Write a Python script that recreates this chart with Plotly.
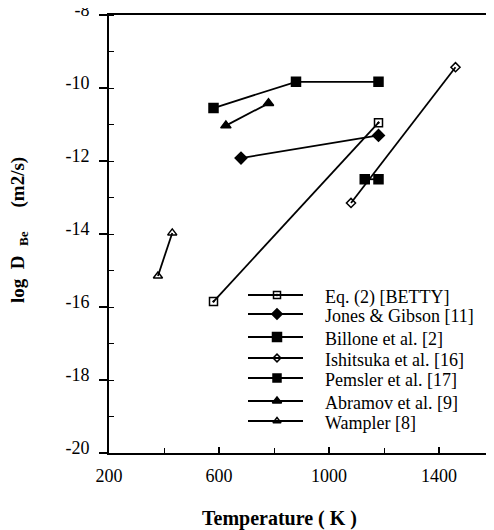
import plotly.graph_objects as go

# data (Temperature K, log D)
betty_T = [580, 1180]
betty_D = [-15.85, -10.95]
jones_T = [680, 1180]
jones_D = [-11.92, -11.3]
billone_T = [580, 880, 1180]
billone_D = [-10.55, -9.83, -9.83]
ishitsuka_T = [1080, 1460]
ishitsuka_D = [-13.15, -9.43]
pemsler_T = [1130, 1180]
pemsler_D = [-12.5, -12.5]
abramov_T = [625, 780]
abramov_D = [-11.03, -10.42]
wampler_T = [378, 430]
wampler_D = [-15.15, -13.97]

x_tickvals = [200, 600, 1000, 1400]
x_ticktext = ["200", "600", "1000", "1400"]
y_tickvals = [-20, -18, -16, -14, -12, -10, -8]
y_ticktext = ["-20", "-18", "-16", "-14", "-12", "-10", "-8"]

series_names = ["Eq. (2) [BETTY]", "Jones & Gibson [11]", "Billone et al. [2]",
                "Ishitsuka et al. [16]", "Pemsler et al. [17]",
                "Abramov et al. [9]", "Wampler [8]"]
series_T = [betty_T, jones_T, billone_T, ishitsuka_T, pemsler_T, abramov_T, wampler_T]
series_D = [betty_D, jones_D, billone_D, ishitsuka_D, pemsler_D, abramov_D, wampler_D]

symbols = ["square-open-dot", "diamond", "square", "diamond-open",
           "square", "triangle-up", "triangle-up-open"]
sizes = [8, 9, 9, 7, 9, 9, 8]
legend_sizes = [7, 8, 9, 6, 8, 8, 7]

FONT = "Liberation Serif"

# page offset (default body margin) compensation
OFF = 8
PL, PR, PT, PB = 109, 494, 15, 453  # desired plot area in page pixels
W, H = 494, 530
pw = PR - PL
ph = PB - PT


def px(xp):
    return (xp - PL) / pw


def py(yp):
    return 1 - (yp - PT) / ph


fig = go.Figure()
for name, xs, ys, sym, sz in zip(series_names, series_T, series_D, symbols, sizes):
    fig.add_trace(go.Scatter(
        x=xs, y=ys, name=name, mode="lines+markers", showlegend=False,
        line=dict(color="black", width=1.8),
        marker=dict(symbol=sym, size=sz, color="black",
                    line=dict(color="black", width=1.5)),
    ))

# manual legend (line sample + marker + text)
leg_rows = [295, 314, 337, 358, 378, 401, 421]
leg_x0, leg_x1, leg_mx, leg_tx = 248, 303, 277, 323
shapes = []
annotations = []
for i, name in enumerate(series_names):
    yy = py(leg_rows[i])
    shapes.append(dict(type="line", xref="paper", yref="paper",
                       x0=px(leg_x0), x1=px(leg_x1), y0=yy, y1=yy,
                       line=dict(color="black", width=1.8)))
    fig.add_trace(go.Scatter(
        x=[px(leg_mx)], y=[yy], xaxis="x2", yaxis="y2", mode="markers",
        showlegend=False, hoverinfo="skip",
        marker=dict(symbol=symbols[i], size=legend_sizes[i], color="black",
                    line=dict(color="black", width=1.5)),
    ))
    annotations.append(dict(text=name, xref="paper", yref="paper",
                            x=px(leg_tx), y=py(leg_rows[i] + 2),
                            xanchor="left", yanchor="middle", showarrow=False,
                            font=dict(family=FONT, size=18)))

NB = "\u00a0"
ytitle = ("<b>log" + NB * 2 + "D" + NB * 2 + "<sub>Be</sub>" + NB * 5 + "(m2/s)</b>")

annotations += [
    dict(text="<b>Temperature ( K )</b>", xref="paper", yref="paper",
         x=px(279), y=py(518), showarrow=False,
         xanchor="center", yanchor="middle",
         font=dict(family=FONT, size=20)),
    dict(text=ytitle,
         xref="paper", yref="paper",
         x=px(19), y=py(230), showarrow=False,
         textangle=-90, xanchor="center", yanchor="middle",
         font=dict(family=FONT, size=19)),
]

fig.update_layout(
    width=W, height=H,
    margin=dict(l=PL - OFF, r=max(0, W - (PR - OFF)), t=PT - OFF, b=H - (PB - OFF)),
    paper_bgcolor="white", plot_bgcolor="white",
    font=dict(family=FONT, size=18, color="black"),
    showlegend=False,
    xaxis=dict(range=[200, 1600], tickvals=x_tickvals, ticktext=x_ticktext,
               ticks="inside", ticklen=6, tickwidth=1.5, tickcolor="black",
               showline=True, linecolor="black", linewidth=2, mirror=True,
               showgrid=False, zeroline=False, ticklabeloverflow="allow",
               automargin=False, ticklabelstandoff=5,
               minor=dict(dtick=200, ticks="inside", ticklen=5,
                          tickcolor="black", tickwidth=1.2),
               tickfont=dict(family=FONT, size=18)),
    yaxis=dict(range=[-20, -8], tickvals=y_tickvals, ticktext=y_ticktext,
               ticks="outside", ticklen=8, tickwidth=1.5, tickcolor="black",
               showline=True, linecolor="black", linewidth=2,
               showgrid=False, zeroline=False, ticklabeloverflow="allow",
               automargin=False, ticklabelstandoff=6, ticklabelshift=-5,
               minor=dict(dtick=1, ticks="inside", ticklen=5,
                          tickcolor="black", tickwidth=1.2),
               tickfont=dict(family=FONT, size=18)),
    xaxis2=dict(range=[0, 1], overlaying="x", visible=False),
    yaxis2=dict(range=[0, 1], overlaying="y", visible=False),
    shapes=shapes,
    annotations=annotations,
)

fig.write_html("out.html", config={"displayModeBar": False})
